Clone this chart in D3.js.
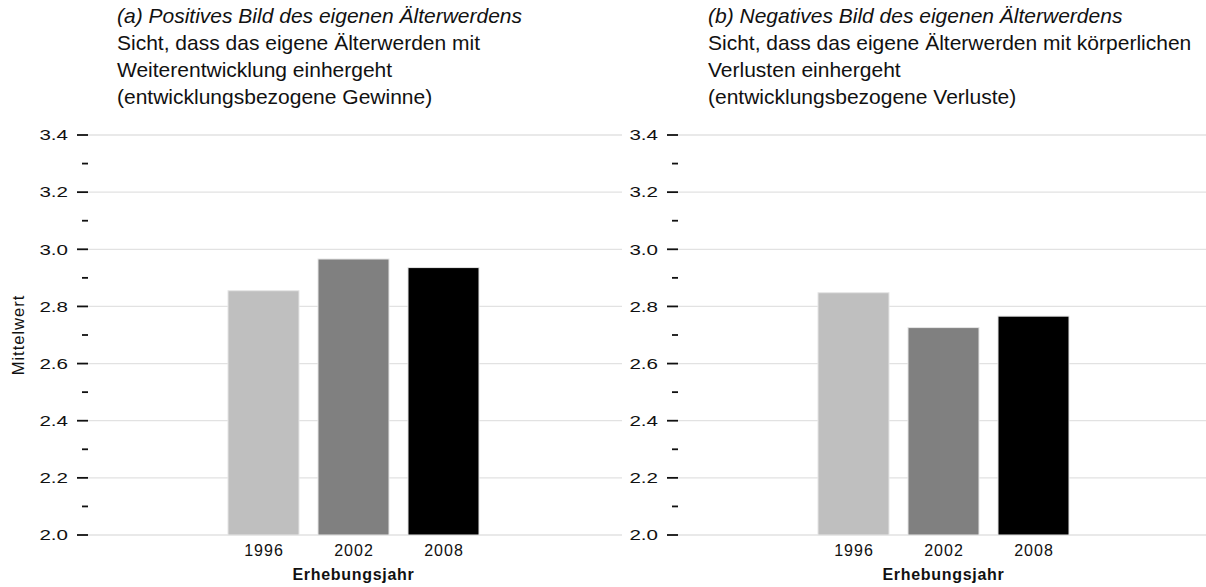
<!DOCTYPE html>
<html><head><meta charset="utf-8">
<script src="https://cdn.jsdelivr.net/npm/d3@7"></script>
<style>body{margin:0;background:#fff;} svg{display:block;font-family:"Liberation Sans",Arial,sans-serif;}</style>
</head><body>
<svg id="c" width="1206" height="587"></svg>
<script>
const years = ["1996", "2002", "2008"];
const valuesA = [2.855, 2.966, 2.936];
const valuesB = [2.848, 2.726, 2.766];
const barColors = ["#bfbfbf", "#808080", "#000000"];
const majorTicks = [2.0, 2.2, 2.4, 2.6, 2.8, 3.0, 3.2, 3.4];
const minorTicks = [2.1, 2.3, 2.5, 2.7, 2.9, 3.1, 3.3];
const titleA = ["(a) Positives Bild des eigenen Älterwerdens", "Sicht, dass das eigene Älterwerden mit", "Weiterentwicklung einhergeht", "(entwicklungsbezogene Gewinne)"];
const titleB = ["(b) Negatives Bild des eigenen Älterwerdens", "Sicht, dass das eigene Älterwerden mit körperlichen", "Verlusten einhergeht", "(entwicklungsbezogene Verluste)"];
const xTitle = "Erhebungsjahr";
const yTitle = "Mittelwert";

const svg = d3.select("#c");
const y = d3.scaleLinear().domain([2.0, 3.4]).range([535, 135]);
const titleBaselines = [23, 50, 77, 104];

function panel(axisX, gridEnd, barRange, values, titles, titleX, showY) {
  const g = svg.append("g");
  g.selectAll("line.grid").data(majorTicks).join("line")
    .attr("x1", axisX).attr("x2", gridEnd)
    .attr("y1", d => y(d)).attr("y2", d => y(d))
    .attr("stroke", "#e2e2e2").attr("stroke-width", 1.3);
  g.selectAll("line.maj").data(majorTicks).join("line")
    .attr("x1", axisX - 11).attr("x2", axisX)
    .attr("y1", d => y(d)).attr("y2", d => y(d))
    .attr("stroke", "#111").attr("stroke-width", 1.8);
  g.selectAll("line.min").data(minorTicks).join("line")
    .attr("x1", axisX - 6).attr("x2", axisX)
    .attr("y1", d => y(d)).attr("y2", d => y(d))
    .attr("stroke", "#111").attr("stroke-width", 1.8);
  g.selectAll("text.tl").data(majorTicks).join("text")
    .attr("transform", d => `translate(${axisX - 20},${y(d)}) scale(1.42,1)`)
    .attr("dy", "0.36em")
    .attr("text-anchor", "end").attr("font-size", 14.5).attr("fill", "#111")
    .text(d => d.toFixed(1));
  const x = d3.scaleBand().domain(years).range(barRange).paddingInner(0.211).paddingOuter(0);
  g.selectAll("rect").data(values).join("rect")
    .attr("x", (d, i) => x(years[i])).attr("width", x.bandwidth())
    .attr("y", d => y(d)).attr("height", d => y(2.0) - y(d))
    .attr("fill", (d, i) => barColors[i])
    .attr("stroke", "#e6e6e6").attr("stroke-width", 1);
  g.selectAll("text.xl").data(years).join("text")
    .attr("x", d => x(d) + x.bandwidth() / 2 + 0.5).attr("y", 556)
    .attr("text-anchor", "middle").attr("font-size", 16).attr("fill", "#111")
    .attr("letter-spacing", "1px")
    .text(d => d);
  g.append("text").attr("x", (barRange[0] + barRange[1]) / 2).attr("y", 580)
    .attr("text-anchor", "middle").attr("font-size", 16).attr("font-weight", "bold").attr("fill", "#111")
    .attr("letter-spacing", "0.7px")
    .text(xTitle);
  titles.forEach((t, i) => {
    g.append("text")
      .attr("x", titleX).attr("y", titleBaselines[i])
      .attr("font-size", 21).attr("fill", "#111")
      .attr("font-style", i === 0 ? "italic" : "normal")
      .text(t);
  });
  if (showY) {
    g.append("text").attr("transform", `translate(24,${y(2.7)}) rotate(-90)`)
      .attr("text-anchor", "middle").attr("font-size", 16.5).attr("fill", "#111")
      .attr("letter-spacing", "1px")
      .text(yTitle);
  }
}

panel(88, 622, [228, 479], valuesA, titleA, 117, true);
panel(678, 1206, [818, 1069], valuesB, titleB, 708, false);
</script>
</body></html>
